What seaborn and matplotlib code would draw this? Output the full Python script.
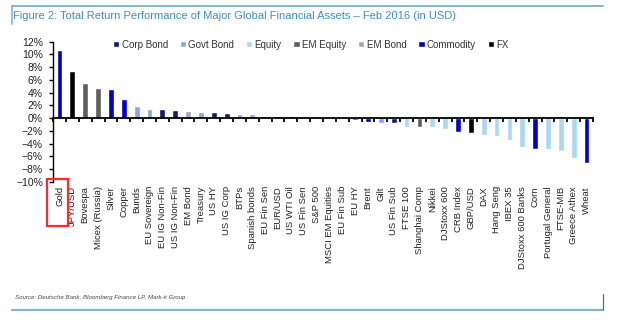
import matplotlib
matplotlib.use("Agg")
import matplotlib.pyplot as plt
import seaborn as sns
import pandas as pd
from matplotlib.lines import Line2D
from matplotlib.patches import Rectangle
from matplotlib.ticker import FixedLocator, PercentFormatter

categories = ["Gold", "JPY/USD", "Bovespa", "Micex (Russia)", "Silver", "Copper", "Bunds",
              "EU Sovereign", "EU IG Non-Fin", "US IG Non-Fin", "EM Bond", "Treasury", "US HY",
              "US IG Corp", "BTPs", "Spanish bonds", "EU Fin Sen", "EUR/USD", "US WTI Oil",
              "US Fin Sen", "S&P 500", "MSCI EM Equities", "EU Fin Sub", "EU HY", "Brent", "Gilt",
              "US Fin Sub", "FTSE 100", "Shanghai Comp", "Nikkei", "DJStoxx 600", "CRB Index",
              "GBP/USD", "DAX", "Hang Seng", "IBEX 35", "DJStoxx 600 Banks", "Corn",
              "Portugal General", "FTSE-MIB", "Greece Athex", "Wheat"]
values = [10.7, 7.45, 5.45, 4.65, 4.5, 2.95, 1.95, 1.35, 1.35, 1.2, 1.1, 1.0, 0.95, 0.8, 0.7,
          0.65, 0.4, 0.4, 0.35, 0.1, 0.05, -0.1, -0.2, -0.3, -0.6, -0.85, -0.85, -1.35, -1.45,
          -1.4, -1.75, -2.15, -2.3, -2.7, -2.85, -3.5, -4.6, -4.9, -4.9, -5.1, -6.2, -7.1]
asset_class = ["Commodity", "FX", "EM Equity", "EM Equity", "Commodity", "Commodity", "Govt Bond",
               "Govt Bond", "Corp Bond", "Corp Bond", "EM Bond", "Govt Bond", "Corp Bond",
               "Corp Bond", "Govt Bond", "Govt Bond", "Corp Bond", "FX", "Commodity",
               "Corp Bond", "Equity", "EM Equity", "Corp Bond", "Corp Bond", "Commodity",
               "Govt Bond", "Corp Bond", "Equity", "EM Equity", "Equity", "Equity", "Commodity",
               "FX", "Equity", "Equity", "Equity", "Equity", "Commodity", "Equity", "Equity",
               "Equity", "Commodity"]
class_order = ["Corp Bond", "Govt Bond", "Equity", "EM Equity", "EM Bond", "Commodity", "FX"]
class_colors = ["#0D1B72", "#8AA4E6", "#A8D8F2", "#5E5E5E", "#A4A4B6", "#0000CC", "#000000"]
yticks = [-10, -8, -6, -4, -2, 0, 2, 4, 6, 8, 10, 12]

title = "Figure 2: Total Return Performance of Major Global Financial Assets \u2013 Feb 2016 (in USD)"
source = "Source: Deutsche Bank, Bloomberg Finance LP, Mark-it Group"

sns.set_theme(style="white")
plt.rcParams["font.family"] = ["Liberation Sans", "DejaVu Sans"]

df = pd.DataFrame({"asset": categories, "ret": values, "cls": asset_class})

W, H = 621, 326
fig = plt.figure(figsize=(W / 100, H / 100), dpi=100)
ax = fig.add_axes([52.7 / W, 1 - 181.7 / H, (593 - 52.7) / W, (181.7 - 41.7) / H])

sns.barplot(data=df, x="asset", y="ret", hue="cls", order=categories, hue_order=class_order,
            palette=dict(zip(class_order, class_colors)), dodge=False, width=0.45,
            saturation=1, ax=ax, legend=True)

ax.set_xlim(-0.53, 41.5)
ax.set_ylim(-10, 12)
ax.set_yticks(yticks)
ax.yaxis.set_major_formatter(PercentFormatter(decimals=0))
ax.set_xlabel("")
ax.set_ylabel("")
for s in ["top", "right"]:
    ax.spines[s].set_visible(False)
ax.spines["bottom"].set_position(("data", 0))
ax.spines["bottom"].set_color("black")
ax.spines["bottom"].set_linewidth(1.3)
ax.spines["left"].set_color("black")
ax.spines["left"].set_linewidth(1.0)

ax.xaxis.set_minor_locator(FixedLocator([i + 0.5 for i in range(-1, len(categories))]))
ax.tick_params(axis="x", which="major", length=0, pad=49, labelsize=6.8, labelrotation=90,
               labelcolor="#222222")
ax.tick_params(axis="x", which="minor", length=3, width=1.3, color="black", direction="out",
               bottom=True)
ax.tick_params(axis="y", which="major", length=3, width=1, color="black", direction="out",
               left=True, pad=4, labelsize=7.5, labelcolor="#222222")
for lbl in ax.get_xticklabels():
    lbl.set_va("top")
    lbl.set_ha("center")

handles, labels = ax.get_legend_handles_labels()
ax.legend(handles, labels, ncol=7, frameon=False, fontsize=7, loc="center left",
          bbox_to_anchor=(113 / W, 1 - 44.5 / H), bbox_transform=fig.transFigure,
          handlelength=0.65, handleheight=0.65, handletextpad=0.25, columnspacing=1.2,
          borderaxespad=0, borderpad=0, labelcolor="#333333")

fig.text(13 / W, 1 - 15.7 / H, title, ha="left", va="center", fontsize=8.0, color="#3F8EC2")
fig.text(15 / W, 1 - 298 / H, source, ha="left", va="center", fontsize=4.4,
         style="italic", color="#444444")

frame_c = "#86B6C4"
fig.add_artist(Line2D([12 / W, 603 / W], [1 - 6 / H, 1 - 6 / H], color=frame_c, lw=1.4,
                      transform=fig.transFigure))
fig.add_artist(Line2D([12 / W, 12 / W], [1 - 6 / H, 1 - 24 / H], color=frame_c, lw=1.2,
                      transform=fig.transFigure))
fig.add_artist(Line2D([12 / W, 603 / W], [1 - 309.5 / H, 1 - 309.5 / H], color=frame_c, lw=1.6,
                      transform=fig.transFigure))
fig.add_artist(Line2D([603 / W, 603 / W], [1 - 309.5 / H, 1 - 294 / H], color="#3E7F8E", lw=0.9,
                      transform=fig.transFigure))

fig.add_artist(Rectangle((46.7 / W, 1 - 226 / H), (68.3 - 46.7) / W, (226 - 179) / H,
                         transform=fig.transFigure, fill=False, edgecolor="#FF2A2A", lw=1.6))

fig.savefig("out.png", dpi=100)
